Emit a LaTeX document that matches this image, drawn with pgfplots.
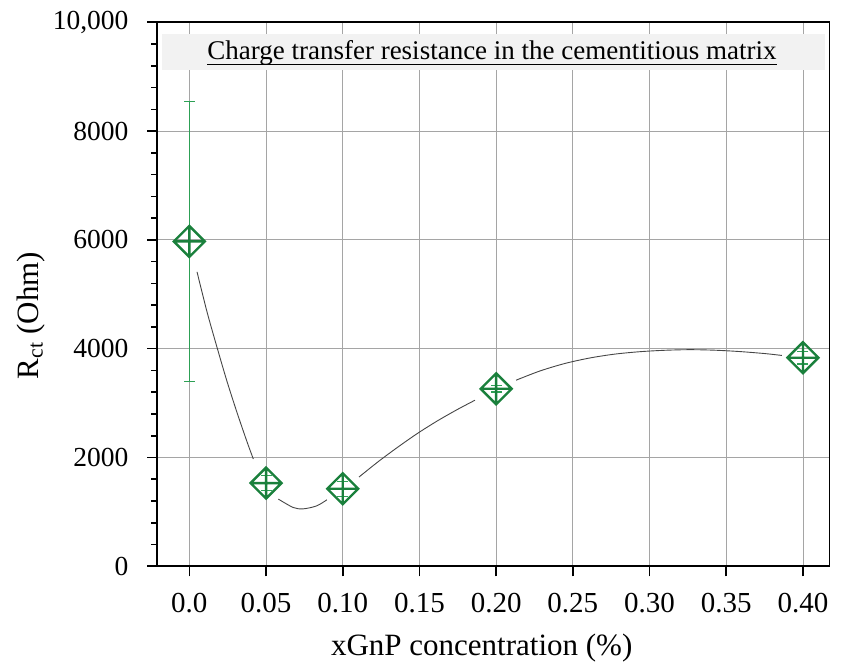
\documentclass[border=0pt]{standalone}
\usepackage{pgfplots}
\pgfplotsset{compat=1.18}
\usepackage{pgfplotstable}
\usepackage{fontspec}
\setmainfont{Liberation Serif}
\usetikzlibrary{calc}
\definecolor{mkgreen}{RGB}{26,128,60}
\definecolor{errgreen}{RGB}{45,160,85}
\definecolor{gridc}{RGB}{165,165,165}
\definecolor{curvec}{RGB}{70,70,70}
\definecolor{titlegray}{RGB}{242,242,242}

\pgfdeclareplotmark{dplus}{%
  \pgfpathmoveto{\pgfqpoint{0pt}{\pgfplotmarksize}}%
  \pgfpathlineto{\pgfqpoint{\pgfplotmarksize}{0pt}}%
  \pgfpathlineto{\pgfqpoint{0pt}{-\pgfplotmarksize}}%
  \pgfpathlineto{\pgfqpoint{-\pgfplotmarksize}{0pt}}%
  \pgfpathclose
  \pgfpathmoveto{\pgfqpoint{0pt}{\pgfplotmarksize}}%
  \pgfpathlineto{\pgfqpoint{0pt}{-\pgfplotmarksize}}%
  \pgfpathmoveto{\pgfqpoint{-\pgfplotmarksize}{0pt}}%
  \pgfpathlineto{\pgfqpoint{\pgfplotmarksize}{0pt}}%
  \pgfusepathqstroke
}

\pgfplotstableread{
x y
0.00 5972
0.05 1530
0.10 1425
0.20 3263
0.40 3834
}\datatable

\begin{document}
\begin{tikzpicture}
\begin{axis}[
  set layers,
  scale only axis, width=672.2pt, height=544pt,
  xmin=-0.0209, xmax=0.4173, ymin=0, ymax=10000,
  xtick={0,0.05,0.10,0.15,0.20,0.25,0.30,0.35,0.40},
  xticklabels={0.0,0.05,0.10,0.15,0.20,0.25,0.30,0.35,0.40},
  ytick={0,2000,4000,6000,8000,10000},
  yticklabels={0,2000,4000,6000,8000,{10,000}},
  minor y tick num=4,
  xtick pos=left, ytick pos=left,
  tick align=outside,
  major tick length=10pt, minor tick length=6pt,
  tick style={black, line width=1.6pt},
  axis line style={line width=1.8pt},
  grid=major, major grid style={gridc, line width=0.9pt},
  scaled y ticks=false,
  unbounded coords=jump,
  /pgf/number format/assume math mode=true,
  xticklabel style={font=\fontsize{29}{34}\selectfont, anchor=north, inner sep=0pt, yshift=-17pt},
  yticklabel style={font=\fontsize{27.5}{33}\selectfont, anchor=east, inner sep=0pt, xshift=-18.7pt},
  xlabel={xGnP concentration (\%)},
  xlabel style={font=\fontsize{31}{36}\selectfont, at={(axis description cs:0.4826,-0.1648)}, anchor=base},
  ylabel={R\textsubscript{ct} (Ohm)},
  ylabel style={font=\fontsize{31}{36}\selectfont, at={(axis description cs:-0.1874,0.461)}, anchor=center},
]
% fitted curve, drawn in pieces (gaps around the markers)
\addplot[curvec, line width=0.9pt, smooth, no marks] coordinates {
 (0.0050,5412) (0.0115,4678) (0.0180,4028) (0.0245,3403) (0.0311,2824) (0.0376,2288) (0.0417,1972)};
\addplot[curvec, line width=0.9pt, smooth, no marks] coordinates {
 (0.0580,1235) (0.0678,1080) (0.0743,1056) (0.0831,1112) (0.0896,1222)};
\addplot[curvec, line width=0.9pt, smooth, no marks] coordinates {
 (0.1106,1641) (0.1230,1921) (0.1361,2195) (0.1491,2450) (0.1621,2680) (0.1752,2890) (0.1862,3053)};
\addplot[curvec, line width=0.9pt, smooth, no marks] coordinates {
 (0.2130,3421) (0.2286,3591) (0.2449,3729) (0.2612,3830) (0.2775,3901) (0.2938,3945)
 (0.3101,3971) (0.3264,3982) (0.3427,3972) (0.3590,3947) (0.3753,3910) (0.3862,3876)};
% error bars (mean +/- error), with caps
\addplot[color=errgreen, line width=1.3pt, mark=-, mark size=5.5pt, mark options={solid, color=errgreen, line width=1.3pt}] coordinates {
 (0,3395) (0,8549) (0,nan)
 (0.05,1395) (0.05,1665) (0.05,nan)
 (0.10,1285) (0.10,1565) (0.10,nan)
 (0.20,3203) (0.20,3323) (0.20,nan)
 (0.40,3719) (0.40,3949)};
% markers
\addplot[only marks, mark=dplus, mark size=15.5pt, mark options={draw=mkgreen, line width=2.4pt, line join=miter}]
  table[x=x, y=y]{\datatable};
\end{axis}
% title box
\fill[titlegray] ($(current axis.north west)+(4.4pt,-11.7pt)$) rectangle ($(current axis.north west)+(667.7pt,-47.7pt)$);
\node[anchor=base, inner sep=0pt, font=\fontsize{27}{32}\selectfont] (T) at ($(current axis.north west)+(334.7pt,-37.7pt)$) {Charge transfer resistance in the cementitious matrix};
\draw[line width=1.3pt] ($(T.base west)+(0,-4.3pt)$) -- ($(T.base east)+(0,-4.3pt)$);
% page frame
\path (current axis.south west) ++(-157.3pt,-99.7pt) rectangle ++(846pt,666pt);
\end{tikzpicture}
\end{document}
